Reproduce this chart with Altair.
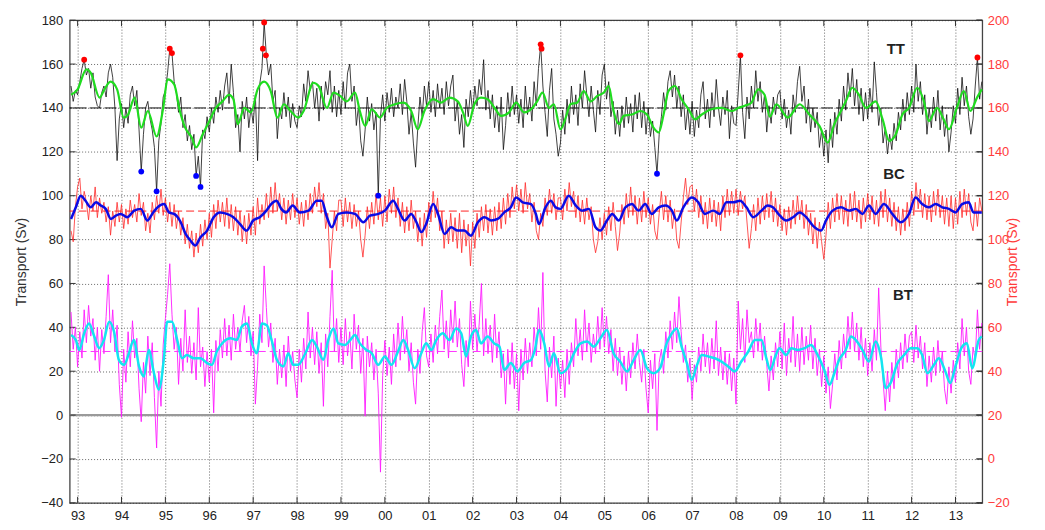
import altair as alt
import pandas as pd

# ------------------------------------------------------------------ data
T0 = 1992.85   # first sample of the raw series (decimal year)
DT = 0.05      # sampling step of the raw series (years)

# TT raw transport (black)
tt_raw = [
    150, 143, 148,
    146, 152, 158, 162, 155, 158, 149, 156, 145, 141, 140, 147, 150, 145, 156, 160, 154, 140, 116, 135,  # 1993
    142, 131, 140, 133, 146, 150, 141, 148, 130, 111, 128, 140, 143, 135, 130, 122, 102, 125, 133, 145,  # 1994
    148, 156, 167, 165, 152, 147, 138, 145, 131, 137, 125, 132, 121, 128, 109, 118, 104, 130, 126, 136,  # 1995
    129, 140, 133, 145, 138, 148, 139, 150, 156, 142, 160, 147, 131, 137, 120, 143, 135, 145, 131, 140,  # 1996
    133, 146, 116, 151, 158, 179, 164, 155, 160, 143, 148, 126, 140, 135, 147, 136, 145, 131, 142, 134,  # 1997
    131, 141, 136, 151, 143, 157, 148, 152, 140, 149, 134, 150, 139, 152, 146, 157, 138, 150, 136, 148,  # 1998
    137, 152, 140, 156, 160, 143, 150, 132, 141, 125, 118, 130, 145, 134, 142, 130, 138, 100, 136, 146,  # 1999
    134, 147, 138, 149, 136, 145, 140, 151, 137, 153, 143, 128, 138, 124, 113, 131, 145, 136, 150, 141,  # 2000
    152, 138, 148, 136, 151, 140, 149, 137, 152, 141, 150, 155, 134, 143, 128, 137, 122, 144, 136, 148,  # 2001
    138, 150, 141, 153, 146, 162, 139, 148, 135, 146, 131, 141, 129, 145, 121, 132, 147, 136, 150, 137,  # 2002
    146, 133, 144, 131, 150, 137, 145, 134, 152, 141, 158, 169, 150, 138, 127, 148, 158, 135, 128, 118,  # 2003
    124, 139, 128, 144, 133, 150, 137, 146, 132, 151, 140, 157, 146, 136, 150, 139, 129, 148, 137, 155,  # 2004
    160, 144, 152, 136, 143, 128, 139, 127, 141, 131, 145, 133, 142, 129, 146, 135, 147, 131, 143, 128,  # 2005
    140, 127, 134, 122, 110, 128, 136, 147, 139, 152, 157, 145, 155, 140, 150, 136, 146, 130, 140, 128,  # 2006
    143, 127, 139, 131, 146, 152, 135, 144, 131, 147, 136, 153, 140, 132, 145, 137, 148, 126, 141, 133,  # 2007
    132, 147, 164, 138, 126, 145, 135, 150, 140, 157, 143, 152, 138, 146, 129, 141, 133, 145, 137, 146,  # 2008
    148, 135, 144, 131, 139, 128, 146, 138, 152, 159, 143, 150, 133, 144, 129, 140, 131, 138, 122, 130,  # 2009
    118, 130, 115, 135, 122, 138, 128, 144, 134, 150, 139, 156, 145, 158, 141, 153, 137, 149, 134, 147,  # 2010
    135, 149, 138, 161, 147, 132, 140, 124, 131, 119, 128, 121, 133, 125, 138, 130, 144, 134, 147, 137,  # 2011
    150, 138, 160, 143, 152, 137, 146, 128, 140, 131, 145, 134, 148, 130, 141, 127, 137, 120, 129, 141,  # 2012
    133, 149, 137, 154, 141, 150, 136, 128, 135, 150, 163, 144, 152,                                     # 2013
]

# BC raw transport (red)
bc_raw = [
    84, 79, 95,
    104, 108, 94, 102, 97, 89, 100, 93, 104, 90, 99, 92, 97, 88, 95, 82, 93, 86, 97, 88,   # 1993
    96, 85, 94, 87, 98, 90, 96, 88, 101, 91, 97, 84, 92, 83, 97, 89, 100, 92, 103, 91,     # 1994
    99, 88, 97, 86, 96, 85, 93, 82, 90, 78, 87, 76, 84, 72, 83, 74, 87, 77, 89, 80,        # 1995
    92, 81, 96, 85, 98, 88, 97, 86, 99, 85, 96, 84, 95, 82, 93, 79, 91, 78, 92, 82,        # 1996
    95, 82, 99, 87, 96, 89, 101, 90, 104, 92, 106, 93, 101, 89, 99, 87, 98, 89, 101, 90,   # 1997
    99, 87, 97, 86, 98, 89, 101, 92, 104, 95, 106, 92, 101, 85, 92, 67, 80, 93, 84, 98,    # 1998
    98, 86, 99, 88, 97, 85, 96, 86, 93, 80, 72, 82, 95, 85, 97, 87, 101, 89, 99, 86,       # 1999
    100, 88, 103, 92, 104, 90, 99, 86, 97, 83, 95, 84, 98, 85, 93, 79, 90, 77, 92, 81,     # 2000
    97, 88, 102, 90, 99, 84, 93, 76, 89, 78, 92, 79, 90, 76, 92, 74, 89, 77, 87, 68,       # 2001
    88, 76, 92, 81, 95, 84, 96, 83, 94, 82, 95, 84, 97, 85, 99, 87, 101, 90, 104, 94,      # 2002
    105, 93, 103, 92, 106, 94, 101, 88, 97, 84, 80, 92, 86, 99, 91, 103, 92, 101, 89, 99,  # 2003
    99, 89, 103, 93, 106, 95, 102, 90, 100, 88, 98, 87, 99, 89, 95, 80, 74, 79, 90, 80,    # 2004
    92, 82, 95, 84, 97, 86, 75, 83, 96, 87, 101, 90, 104, 91, 100, 87, 99, 88, 102, 90,    # 2005
    99, 87, 96, 84, 80, 92, 102, 89, 100, 88, 98, 85, 94, 80, 76, 88, 99, 108, 96, 104,    # 2006
    105, 93, 103, 90, 100, 87, 97, 85, 99, 88, 98, 86, 97, 84, 100, 90, 103, 91, 102, 92,  # 2007
    103, 91, 102, 94, 100, 88, 76, 85, 96, 84, 99, 87, 100, 89, 101, 90, 102, 88, 99, 86,  # 2008
    96, 84, 94, 82, 95, 85, 98, 87, 100, 89, 98, 85, 96, 82, 92, 78, 90, 76, 88, 79,       # 2009
    71, 82, 97, 85, 99, 88, 101, 89, 100, 87, 98, 86, 101, 89, 102, 88, 98, 85, 99, 88,    # 2010
    101, 89, 100, 87, 98, 86, 102, 90, 103, 88, 99, 86, 97, 84, 95, 82, 94, 84, 97, 86,    # 2011
    102, 91, 106, 94, 103, 90, 101, 89, 100, 88, 102, 91, 103, 90, 100, 87, 99, 86, 100, 85,  # 2012
    99, 87, 102, 90, 103, 91, 101, 88, 84, 97, 86, 99, 93,                                  # 2013
]

# BT raw transport (magenta)
bt_raw = [
    47, 30, 40,
    22, 38, 26, 48, 33, 50, 36, 44, 25, 40, 20, 39, 28, 45, 64, 33, 48, 29, 41, 14,       # 1993
    -1, 30, 15, 38, 22, 43, 26, 35, 12, -3, 24, 10, 36, 18, 33, 8, -15, 20, 4, 32,        # 1994
    44, 55, 69, 46, 30, 40, 14, 35, 20, 48, 24, 36, 19, 33, 16, 49, 22, 31, 13, 29,       # 1995
    15, 30, 1, 34, 20, 39, 26, 44, 27, 41, 25, 46, 30, 40, 29, 43, 50, 33, 45, 27,        # 1996
    38, 5, 22, 46, 33, 68, 49, 31, 42, 24, 35, 14, 30, 17, 32, 13, 36, 20, 29, 16,        # 1997
    8, 30, 15, 35, 21, 47, 26, 40, 23, 38, 19, 33, 4, 37, 22, 45, 66, 29, 44, 24,         # 1998
    40, 23, 44, 27, 38, 21, 46, 30, 41, 19, 35, -0.5, 36, 22, 33, 16, 30, 10, -26, 18,    # 1999
    34, 18, 31, 14, 37, 22, 42, 25, 45, 28, 39, 20, 33, 15, 5, 30, 19, 38, 49, 27,        # 2000
    22, 37, 24, 41, 28, 45, 57, 30, 43, 26, 48, 33, 52, 31, 44, 23, 13, 34, 22, 52,       # 2001
    30, 46, 29, 42, 60, 27, 44, 28, 41, 24, 46, 26, 38, 17, 28, 5, 30, 14, 33, 12,        # 2002
    28, 2, 30, 16, 35, 19, 33, 22, 40, 27, 49, 30, 65, 20, 6, 31, 17, 36, 4, 26,          # 2003
    12, 25, 8, 30, 14, 33, 22, 44, 27, 39, 25, 48, 29, 42, 24, 37, 28, 45, 30, 49,        # 2004
    31, 45, 28, 39, 20, 35, 18, 31, 14, 27, 11, 29, 17, 33, 21, 37, 24, 15, 30, 12,       # 2005
    1, 25, 12, 28, -7, 24, 30, 19, 38, 26, 43, 30, 47, 33, 54, 38, 24, 32, 15, 26,        # 2006
    7, 23, 15, 31, 20, 37, 22, 33, 19, 35, 21, 43, 18, 31, 16, 29, 14, 28, 11, 26,        # 2007
    5, 52, 30, 44, 24, 48, 33, 38, 26, 44, 29, 42, 25, 36, 23, 11, 27, 16, 33, 22,        # 2008
    38, 21, 42, 18, 35, 24, 45, 22, 37, 20, 40, 23, 36, 25, 41, 21, 35, 18, 30, 13,       # 2009
    27, 10, 22, 3, 14, 28, 16, 34, 21, 37, 26, 45, 30, 47, 29, 42, 25, 40, 22, 35,        # 2010
    18, 33, 20, 39, 25, 58, 31, 16, 2, 20, 6, 24, 12, 30, 17, 33, 21, 37, 24, 36,         # 2011
    38, 24, 41, 26, 36, 21, 33, 13, 27, 15, 31, 18, 34, 20, 29, 12, 5, 22, 10, 25,        # 2012
    15, 33, 21, 44, 27, 40, 20, 14, 31, 25, 48, 30, 42,                                   # 2013
]

# smoothed series: (decimal year, value)
tt_smooth = [
    (1992.85, 146), (1993.0, 148.5), (1993.2, 157.6), (1993.3, 156), (1993.5, 144.7), (1993.6, 148),
    (1993.75, 152), (1993.9, 148.5), (1994.05, 135.6), (1994.15, 137), (1994.3, 144.7), (1994.45, 131),
    (1994.6, 138.6), (1994.8, 127), (1994.95, 140), (1995.05, 153), (1995.2, 150.8), (1995.33, 138.6),
    (1995.45, 131), (1995.6, 126.5), (1995.7, 122), (1995.85, 128), (1996.0, 134), (1996.15, 140),
    (1996.3, 143), (1996.45, 146), (1996.55, 144), (1996.65, 132.6), (1996.8, 140), (1996.95, 138),
    (1997.1, 148.5), (1997.25, 152), (1997.4, 147.7), (1997.55, 135.6), (1997.7, 141.7), (1997.85, 138.6),
    (1998.03, 135.6), (1998.15, 138.6), (1998.37, 151.5), (1998.49, 150), (1998.68, 140), (1998.83, 147),
    (1998.98, 145.5), (1999.13, 143), (1999.32, 147), (1999.43, 138.6), (1999.55, 131.8), (1999.7, 139.4),
    (1999.89, 135.6), (2000.04, 140), (2000.23, 141.7), (2000.42, 142.4), (2000.6, 138.6), (2000.75, 130.3),
    (2000.9, 138.6), (2001.1, 144), (2001.28, 142.4), (2001.47, 144.7), (2001.66, 143), (2001.78, 138),
    (2001.89, 131.8), (2002.04, 141.7), (2002.19, 144.7), (2002.34, 144), (2002.5, 140), (2002.65, 136.4),
    (2002.83, 138), (2002.99, 142.4), (2003.17, 138), (2003.36, 140), (2003.47, 143), (2003.59, 147),
    (2003.74, 140), (2003.85, 141.7), (2004.0, 130.3), (2004.12, 135.6), (2004.23, 141.7), (2004.38, 142.4),
    (2004.53, 147.7), (2004.69, 143), (2004.84, 145.5), (2004.99, 147), (2005.1, 150), (2005.21, 138.6),
    (2005.33, 132.6), (2005.44, 136.4), (2005.63, 137), (2005.82, 138.6), (2005.97, 137), (2006.12, 131),
    (2006.24, 128.8), (2006.35, 137), (2006.46, 147.7), (2006.61, 150), (2006.76, 144), (2006.92, 139.4),
    (2007.07, 134.8), (2007.22, 137), (2007.44, 139.4), (2007.67, 140), (2007.9, 138.6), (2008.05, 140),
    (2008.2, 141), (2008.35, 142.4), (2008.5, 148.5), (2008.65, 146), (2008.77, 136), (2008.92, 141.7),
    (2009.18, 135.6), (2009.45, 141.7), (2009.67, 137), (2009.9, 131.8), (2010.09, 124.2), (2010.24, 132.6),
    (2010.39, 138.6), (2010.5, 143), (2010.65, 149.2), (2010.8, 146), (2010.96, 140), (2011.18, 143),
    (2011.34, 134.8), (2011.49, 125), (2011.64, 128), (2011.79, 137), (2011.94, 140), (2012.13, 149.2),
    (2012.28, 143), (2012.39, 134), (2012.58, 140), (2012.73, 134.8), (2012.85, 130.3), (2013.03, 140),
    (2013.19, 147.7), (2013.34, 138.6), (2013.49, 144.7), (2013.6, 148.5),
]

bc_smooth = [
    (1992.85, 89.4), (1992.96, 94.7), (1993.07, 100), (1993.18, 97.7), (1993.3, 94.7), (1993.42, 97),
    (1993.53, 95.5), (1993.64, 94), (1993.76, 89.4), (1993.87, 90.9), (1993.98, 91.7), (1994.13, 90.2),
    (1994.29, 93.2), (1994.44, 94), (1994.59, 88.7), (1994.7, 91.7), (1994.82, 94.7), (1994.97, 96.2),
    (1995.08, 92.4), (1995.2, 91.7), (1995.35, 87.9), (1995.46, 82.6), (1995.57, 79.6), (1995.68, 77.3),
    (1995.8, 81.1), (1995.95, 84.1), (1996.1, 90.2), (1996.25, 92.4), (1996.4, 91.7), (1996.55, 90.2),
    (1996.7, 87.1), (1996.85, 84.1), (1997.0, 88.7), (1997.15, 90.2), (1997.3, 93.2), (1997.41, 96.2),
    (1997.53, 97.7), (1997.64, 94), (1997.75, 92.4), (1997.9, 95.5), (1998.06, 92.4), (1998.26, 93.2),
    (1998.45, 97.7), (1998.56, 97.7), (1998.68, 90.2), (1998.79, 85.6), (1998.94, 91.7), (1999.13, 92.4),
    (1999.32, 91.7), (1999.51, 87.9), (1999.66, 90.9), (1999.85, 91.7), (2000.0, 93.2), (2000.19, 97.7),
    (2000.3, 94), (2000.45, 88.7), (2000.6, 91.7), (2000.72, 87.9), (2000.83, 83.4), (2000.94, 87.1),
    (2001.1, 96.2), (2001.21, 91.7), (2001.36, 82.6), (2001.51, 85.6), (2001.66, 84.1), (2001.81, 84.1),
    (2001.96, 81.8), (2002.12, 87.9), (2002.27, 90.2), (2002.42, 88.7), (2002.57, 89.4), (2002.72, 92.4),
    (2002.87, 94.7), (2002.99, 99.2), (2003.14, 97), (2003.33, 96.2), (2003.44, 91.7), (2003.51, 87.1),
    (2003.66, 94.7), (2003.78, 97.7), (2003.89, 94.7), (2004.0, 94), (2004.19, 100), (2004.35, 95.5),
    (2004.5, 93.2), (2004.65, 94), (2004.8, 85.6), (2004.91, 84.1), (2005.06, 88.7), (2005.18, 91.7),
    (2005.33, 88.7), (2005.48, 94.7), (2005.63, 96.2), (2005.78, 93.2), (2005.93, 96.2), (2006.08, 91.7),
    (2006.24, 94.7), (2006.39, 95.5), (2006.54, 93.2), (2006.65, 88.7), (2006.8, 94.7), (2006.99, 99.2),
    (2007.14, 97), (2007.29, 91.7), (2007.48, 93.2), (2007.63, 91.7), (2007.78, 97), (2007.94, 97),
    (2008.09, 97.7), (2008.24, 94.7), (2008.39, 90.2), (2008.58, 93.2), (2008.72, 95.5), (2008.84, 94.7),
    (2009.0, 90.9), (2009.14, 88.7), (2009.3, 90.2), (2009.45, 92.4), (2009.6, 90.2), (2009.75, 86.4),
    (2009.94, 84.1), (2010.05, 88.7), (2010.2, 93.2), (2010.39, 94.7), (2010.58, 93.2), (2010.73, 94),
    (2010.88, 91.7), (2011.03, 95.5), (2011.18, 91.7), (2011.37, 96.2), (2011.56, 91.7), (2011.75, 87.9),
    (2011.94, 91.7), (2012.09, 99.2), (2012.24, 96.2), (2012.39, 94.7), (2012.55, 96.2), (2012.7, 94.7),
    (2012.85, 94), (2013.0, 92.4), (2013.15, 96.2), (2013.3, 97), (2013.41, 92.4), (2013.6, 92.4),
]

bt_smooth = [
    (1992.85, 36.5), (1992.96, 34.2), (1993.04, 29.7), (1993.15, 37.3), (1993.26, 41.8), (1993.38, 35.8),
    (1993.49, 30.5), (1993.6, 34.2), (1993.72, 42.6), (1993.83, 38), (1993.94, 25.2), (1994.06, 22.9),
    (1994.17, 28.2), (1994.28, 34.2), (1994.4, 22.2), (1994.51, 17.6), (1994.62, 29.7), (1994.74, 19.1),
    (1994.85, 11.6), (1994.97, 26.7), (1995.04, 42.6), (1995.15, 42.6), (1995.27, 34.2), (1995.38, 25.9),
    (1995.49, 27.4), (1995.65, 25.9), (1995.8, 25.9), (1995.95, 23.7), (1996.06, 22.9), (1996.17, 29),
    (1996.33, 33.5), (1996.48, 35), (1996.63, 34.2), (1996.74, 40.3), (1996.86, 41.8), (1996.97, 32.7),
    (1997.08, 28.2), (1997.2, 41.8), (1997.31, 41), (1997.42, 34.2), (1997.54, 25.2), (1997.69, 22.2),
    (1997.8, 28.2), (1997.91, 22.9), (1998.03, 23), (1998.19, 28.2), (1998.34, 34.2), (1998.45, 31.2),
    (1998.6, 25.2), (1998.71, 34.2), (1998.83, 39.5), (1998.94, 32.7), (1999.09, 32), (1999.21, 34.2),
    (1999.32, 36.5), (1999.43, 32.7), (1999.58, 29.7), (1999.7, 28.2), (1999.85, 22.9), (2000.0, 26.7),
    (2000.15, 22.9), (2000.3, 29), (2000.42, 34.2), (2000.53, 29.7), (2000.68, 21.4), (2000.83, 28.2),
    (2000.94, 32.7), (2001.06, 29.7), (2001.17, 34.2), (2001.32, 37.3), (2001.47, 34.2), (2001.62, 39.5),
    (2001.74, 37.3), (2001.85, 26.7), (2001.96, 35.8), (2002.08, 38.8), (2002.19, 32.7), (2002.34, 35.8),
    (2002.49, 32.7), (2002.61, 31.2), (2002.72, 20.6), (2002.87, 23.7), (2003.02, 19.9), (2003.17, 23.7),
    (2003.33, 25.2), (2003.42, 30), (2003.51, 38.8), (2003.63, 32.7), (2003.74, 22.2), (2003.85, 28.2),
    (2004.0, 19.1), (2004.16, 21.4), (2004.31, 28.2), (2004.46, 32.7), (2004.61, 33.5), (2004.76, 31.2),
    (2004.91, 35), (2005.06, 38.8), (2005.21, 28.2), (2005.36, 24.4), (2005.52, 19.9), (2005.67, 25.2),
    (2005.82, 29.7), (2005.97, 21.4), (2006.12, 19.1), (2006.27, 21.4), (2006.42, 32.7), (2006.54, 37.3),
    (2006.65, 39.5), (2006.76, 31.2), (2006.88, 23.7), (2006.99, 16.1), (2007.1, 22.2), (2007.22, 27.4),
    (2007.37, 26.7), (2007.52, 25.9), (2007.67, 24.4), (2007.82, 22.2), (2007.97, 19.9), (2008.12, 24.4),
    (2008.28, 29), (2008.43, 34.2), (2008.58, 34.2), (2008.69, 26), (2008.78, 20.5), (2008.9, 27),
    (2008.99, 30.5), (2009.14, 27.4), (2009.26, 30.5), (2009.41, 29.7), (2009.56, 30.5), (2009.71, 32),
    (2009.86, 27.4), (2010.01, 20.6), (2010.13, 13.8), (2010.24, 19.1), (2010.35, 25.2), (2010.5, 29.7),
    (2010.62, 35.8), (2010.73, 34.2), (2010.88, 29.7), (2011.03, 24.4), (2011.18, 33.5), (2011.3, 26.7),
    (2011.41, 12.3), (2011.52, 14.6), (2011.68, 23.7), (2011.83, 27.4), (2011.98, 30.5), (2012.13, 30.5),
    (2012.24, 27.4), (2012.36, 19.1), (2012.51, 22.9), (2012.62, 25.9), (2012.77, 19.9), (2012.88, 14.6),
    (2013.0, 22.2), (2013.15, 31.2), (2013.26, 32.7), (2013.38, 21.4), (2013.53, 34.2), (2013.6, 35.8),
]

# flagged extremes of TT
tt_peaks = [(1993.15, 162), (1995.10, 167), (1995.15, 165), (1997.22, 167), (1997.25, 179),
            (1997.29, 164), (2003.55, 169), (2003.57, 167), (2008.10, 164), (2013.50, 163)]
tt_troughs = [(1994.45, 111), (1994.80, 102), (1995.70, 109), (1995.80, 104),
              (1999.85, 100), (2006.20, 110)]

mean_tt, mean_bc, mean_bt = 140, 93, 29
series_labels = [("TT", 2011.64, 167), ("BC", 2011.60, 110), ("BT", 2011.80, 54.6)]

year_ticks = list(range(1993, 2014))
left_ticks = list(range(-40, 181, 20))
right_ticks = list(range(-20, 201, 20))

# ------------------------------------------------------------------ chart
W, H = 917, 485
X_DOMAIN = [1992.82, 2013.61]
FONT = "Liberation Sans"
GRID = dict(grid=True, gridDash=[1, 2], gridColor="#333", gridOpacity=0.75, gridWidth=1)

xaxis = alt.Axis(values=year_ticks, labelExpr="substring(toString(datum.value), 2, 4)",
                 ticks=False, domain=False, labelPadding=7, labelFontSize=13, labelColor="#222",
                 labelFont=FONT, labelFlush=False, title=None, **GRID)
yaxis = alt.Axis(values=left_ticks, ticks=False, domain=False, labelPadding=7, labelFontSize=13,
                 labelColor="#222", labelFont=FONT, labelFlush=False, title="Transport (Sv)",
                 titleFont=FONT, titleFontSize=14, titleFontWeight="normal", titleColor="#333",
                 titlePadding=12, **GRID)


def X():
    return alt.X("t:Q", scale=alt.Scale(domain=X_DOMAIN, nice=False, zero=False), axis=xaxis)


def Y():
    return alt.Y("v:Q", scale=alt.Scale(domain=[-40, 180], nice=False, zero=False), axis=yaxis)


def raw_df(vals):
    return pd.DataFrame({"t": [round(T0 + DT * i, 3) for i in range(len(vals))], "v": vals})


def pts_df(pairs):
    return pd.DataFrame({"t": [p[0] for p in pairs], "v": [p[1] for p in pairs]})


def hline(value, **kw):
    return alt.Chart(pd.DataFrame({"v": [value]})).mark_rule(**kw).encode(y=Y())


zero_line = hline(0, color="#9a9a9a", strokeWidth=2.4)
tt_mean = hline(mean_tt, color="#111", strokeWidth=1, strokeDash=[12, 3])
bc_mean = hline(mean_bc, color="#ff2020", strokeWidth=1, strokeDash=[8, 4])
bt_mean = hline(mean_bt, color="#ff33ff", strokeWidth=1, strokeDash=[8, 4])

tt_line = alt.Chart(raw_df(tt_raw)).mark_line(color="#111", strokeWidth=0.8).encode(x=X(), y=Y())
bc_line = alt.Chart(raw_df(bc_raw)).mark_line(color="#ff2a2a", strokeWidth=0.8).encode(x=X(), y=Y())
bt_line = alt.Chart(raw_df(bt_raw)).mark_line(color="#ff1aff", strokeWidth=0.9).encode(x=X(), y=Y())

tt_s = alt.Chart(pts_df(tt_smooth)).mark_line(color="#1fdc1f", strokeWidth=2.2,
                                              interpolate="monotone").encode(x=X(), y=Y())
bc_s = alt.Chart(pts_df(bc_smooth)).mark_line(color="#0a0ae6", strokeWidth=2.5,
                                              interpolate="monotone").encode(x=X(), y=Y())
bt_s = alt.Chart(pts_df(bt_smooth)).mark_line(color="#12e6f0", strokeWidth=2.5,
                                              interpolate="monotone").encode(x=X(), y=Y())

peaks = alt.Chart(pts_df(tt_peaks)).mark_circle(color="#ff0000", size=34, opacity=1).encode(x=X(), y=Y())
troughs = alt.Chart(pts_df(tt_troughs)).mark_circle(color="#0000ff", size=34, opacity=1).encode(x=X(), y=Y())

lab_df = pd.DataFrame({"label": [s[0] for s in series_labels],
                       "t": [s[1] for s in series_labels],
                       "v": [s[2] for s in series_labels]})
labels = alt.Chart(lab_df).mark_text(font=FONT, fontSize=15, fontWeight="bold", color="#222",
                                     align="center", baseline="middle").encode(x=X(), y=Y(), text="label:N")

# inward ticks (MATLAB style)
bot_ticks = alt.Chart(pd.DataFrame({"t": year_ticks})).mark_rule(color="#333").encode(
    x=X(), y=alt.value(H), y2=alt.value(H - 6))
top_ticks = alt.Chart(pd.DataFrame({"t": year_ticks})).mark_rule(color="#333").encode(
    x=X(), y=alt.value(0), y2=alt.value(6))
lft_ticks = alt.Chart(pd.DataFrame({"v": left_ticks})).mark_rule(color="#333").encode(
    y=Y(), x=alt.value(0), x2=alt.value(6))

main = alt.layer(zero_line, bot_ticks, top_ticks, lft_ticks,
                 tt_line, bc_line, bt_line, tt_mean, bc_mean, bt_mean,
                 tt_s, bc_s, bt_s, peaks, troughs, labels)

right = alt.Chart(pd.DataFrame({"v": right_ticks})).mark_rule(color="#333", strokeWidth=1.5).encode(
    y=alt.Y("v:Q", scale=alt.Scale(domain=[-20, 200], nice=False, zero=False),
            axis=alt.Axis(orient="right", values=right_ticks, grid=False, ticks=False, domain=False,
                          labelPadding=5, labelFontSize=13, labelFont=FONT, labelColor="#ff3b3b",
                          labelFlush=False, title="Transport (Sv)", titleFont=FONT, titleFontSize=14,
                          titleFontWeight="normal", titleColor="#ff3b3b", titleAngle=270,
                          titlePadding=10)),
    x=alt.value(W), x2=alt.value(W - 6))

chart = alt.layer(main, right).resolve_scale(y="independent").properties(
    width=W, height=H,
    autosize=alt.AutoSizeParams(type="none"),
    padding={"left": 62, "top": 11, "right": 55, "bottom": 22},
).configure_view(stroke="#444", strokeWidth=1.3)

chart.save("out.html", embed_options={"renderer": "svg", "actions": False})
